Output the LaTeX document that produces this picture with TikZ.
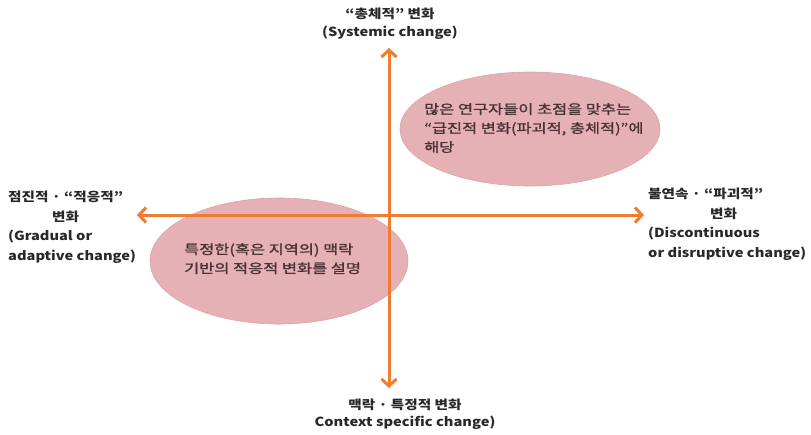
\documentclass[tikz,border=0pt]{standalone}
\usepackage{fontspec}
\setmainfont{Noto Sans CJK KR}
\newfontfamily\labelfont{Noto Sans CJK KR}[FakeStretch=1.17]
\newfontfamily\blobfont{Noto Sans CJK KR}[FakeStretch=1.26, FakeBold=1.3]
\usetikzlibrary{arrows.meta,shapes.geometric}
\definecolor{axisorange}{RGB}{237,125,49}
\definecolor{blobfill}{RGB}{229,177,181}
\definecolor{blobedge}{RGB}{218,165,170}
\definecolor{blobtext}{RGB}{72,50,52}
\definecolor{labeltext}{RGB}{40,40,40}
\tikzset{
  axis/.style={draw=axisorange, line width=3pt,
    arrows={Straight Barb[length=7pt,width=15pt,line width=3pt]-Straight Barb[length=7pt,width=15pt,line width=3pt]}},
  blob/.style={ellipse, fill=blobfill, draw=blobedge, line width=0.6pt},
  blobtxt/.style={text=blobtext, font=\blobfont\fontsize{13pt}{19pt}\selectfont, align=left, inner sep=0pt},
  axislabel/.style={text=labeltext, font=\labelfont\bfseries\fontsize{12.5pt}{19.5pt}\selectfont, inner sep=0pt},
}
\begin{document}
\begin{tikzpicture}[x=1pt,y=-1pt]
  \useasboundingbox (0,0) rectangle (811,434);
  \fill[white] (0,0) rectangle (811,434);

  % shaded regions
  \node[blob, minimum width=260pt, minimum height=114pt] (upper) at (530,129) {};
  \node[blob, minimum width=258pt, minimum height=126pt] (lower) at (279,261) {};

  % axes
  \coordinate (ytop) at (389,48);
  \coordinate (ybot) at (389,388);
  \coordinate (xleft) at (137,215);
  \coordinate (xright) at (644,215);
  \draw[axis] (ybot) -- (ytop);
  \draw[axis] (xleft) -- (xright);

  % texts inside the regions
  \node[blobtxt, anchor=north west] (uppertxt) at (424,103)
    {많은 연구자들이 초점을 맞추는\\“급진적 변화(파괴적, 총체적)”에\\해당};
  \node[blobtxt, anchor=north west] (lowertxt) at (184,243)
    {특정한(혹은 지역의) 맥락\\기반의 적응적 변화를 설명};

  % axis labels
  \node[axislabel, align=center, anchor=north] (toplab) at (390,8)
    {“총체적” 변화\\[-2pt](Systemic change)};
  \node[axislabel, align=center, anchor=north] (botlab) at (405,399)
    {맥락 · 특정적 변화\\[-3pt]Context specific change)};
  \node[axislabel, align=left, anchor=north west] (leftlab) at (8,191)
    {점진적 · “적응적”\\\hspace*{44pt}변화\\(Gradual or\\adaptive change)};
  \node[axislabel, align=left, anchor=north west] (rightlab) at (648,188)
    {불연속 · “파괴적”\\\hspace*{62pt}변화\\(Discontinuous\\or disruptive change)};
\end{tikzpicture}
\end{document}
